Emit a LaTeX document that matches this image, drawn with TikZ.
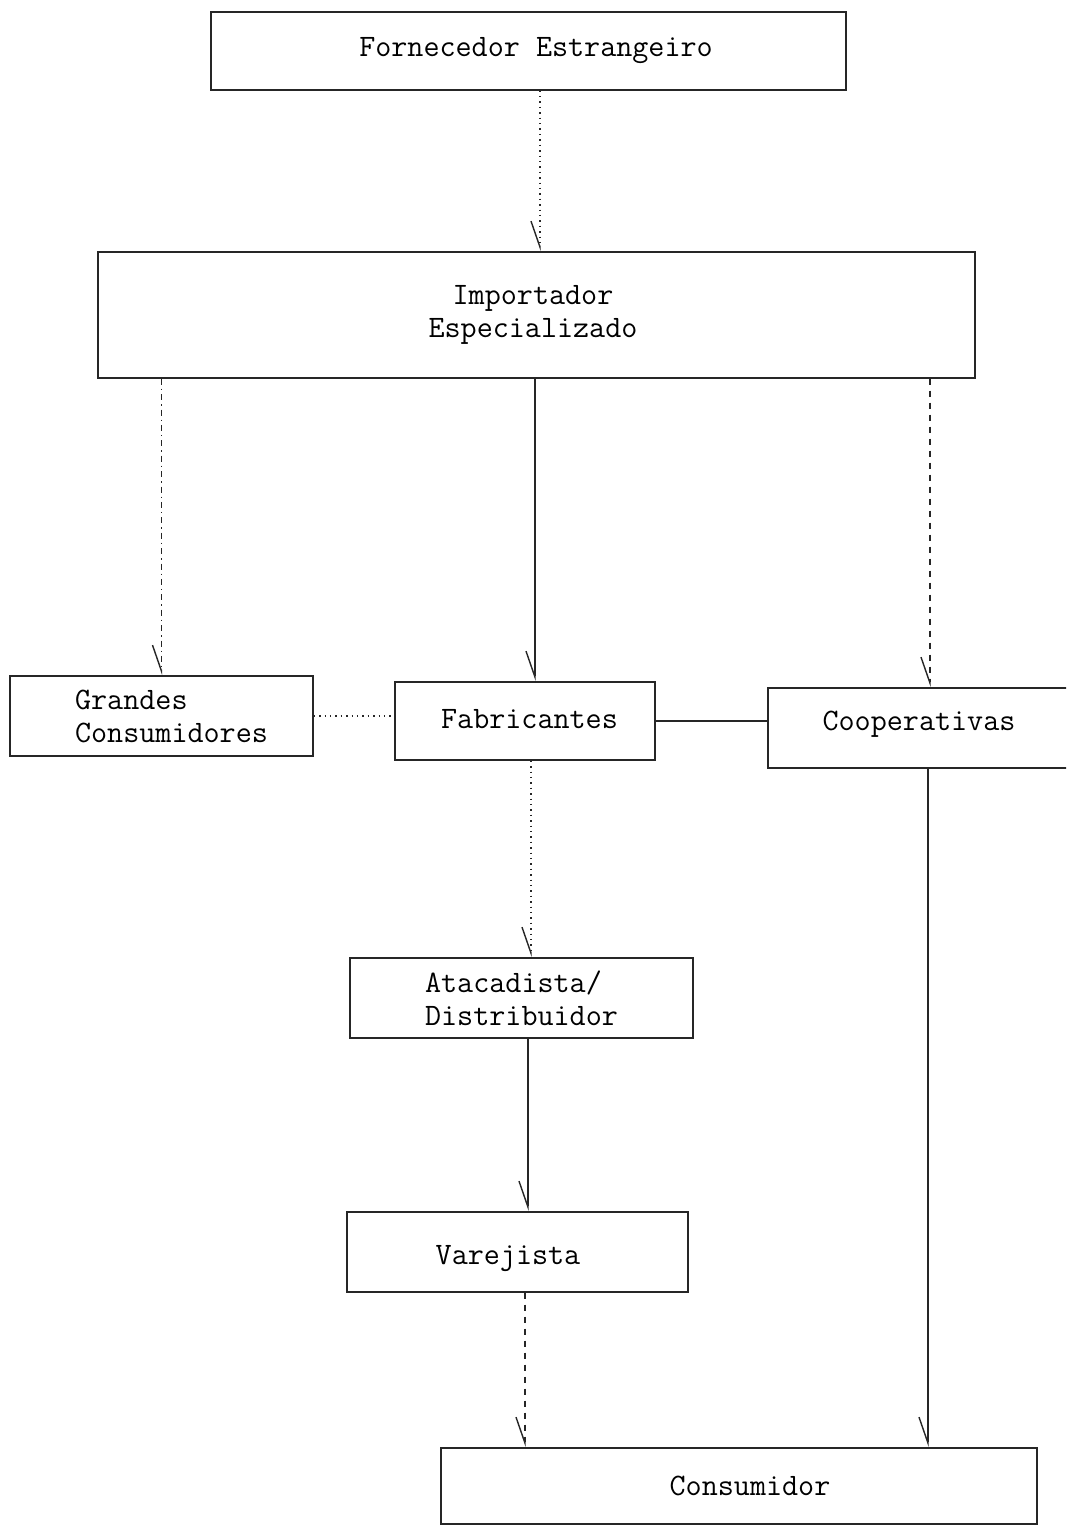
\documentclass[tikz,border=0pt]{standalone}
\usepackage{tikz}
\usetikzlibrary{arrows.meta}

\begin{document}
\begin{tikzpicture}[
  x=0.5pt, y=-0.5pt,
  box/.style={draw=black!85, line width=0.7pt, inner sep=0pt, align=center,
              font=\fontsize{15.6}{16.5}\selectfont\ttfamily},
  arr/.style={-{Straight Barb[right, length=13pt, width=9pt]}, line width=0.7pt, draw=black!85},
  lnk/.style={line width=0.7pt, draw=black!85}
]
\clip (0,0) rectangle (1066,1525);
\fill[white] (0,0) rectangle (1066,1525);

\node[box, minimum width=317.5pt, minimum height=39pt] (forn) at (528.5,51) {\hspace*{7.5pt}Fornecedor Estrangeiro};
\node[box, minimum width=438.5pt, minimum height=63pt] (imp) at (536.5,315) {\hspace*{-3.5pt}Importador\\\hspace*{-3.5pt}Especializado};
\node[box, minimum width=151.5pt, minimum height=40pt, align=left] (grd) at (161.5,716) {\hspace*{10pt}Grandes\\\hspace*{10pt}Consumidores};
\node[box, minimum width=130pt, minimum height=39pt] (fab) at (525,721) {\hspace*{4.5pt}\raisebox{1pt}[\height][\depth]{Fabricantes}};
\node[box, minimum width=151pt, minimum height=40pt] (coop) at (919,728) {\raisebox{2pt}[\height][\depth]{Cooperativas}};
\node[box, minimum width=171.5pt, minimum height=40pt, align=left] (atac) at (521.5,998) {Atacadista/\\Distribuidor};
\node[box, minimum width=170.5pt, minimum height=40pt] (var) at (517.5,1252) {\hspace*{-9.5pt}\raisebox{-3.5pt}[\height][\depth]{Varejista}};
\node[box, minimum width=298pt, minimum height=38pt, text depth=0pt] (cons) at (739,1486) {\hspace{11pt}Consumidor};

\draw[arr, dotted] ([xshift=5.75pt]forn.south) -- ([xshift=5.75pt]forn.south |- imp.north);
\draw[arr, dash dot] (imp.south -| grd.north) -- (grd.north);
\draw[arr] ([xshift=5pt]imp.south -| fab.north) -- ([xshift=5pt]fab.north);
\draw[arr, dashed] ([xshift=5.5pt]imp.south -| coop.north) -- ([xshift=5.5pt]coop.north);
\draw[lnk, dotted] (grd.east) -- (grd.east -| fab.west);
\draw[lnk] (fab.east) -- (fab.east -| coop.west);
\draw[arr, dotted] ([xshift=3pt]fab.south) -- ([xshift=3pt]fab.south |- atac.north);
\draw[arr] ([xshift=3.25pt]atac.south) -- ([xshift=3.25pt]atac.south |- var.north);
\draw[arr, dashed] ([xshift=3.75pt]var.south) -- ([xshift=3.75pt]var.south |- cons.north);
\draw[arr] ([xshift=4.5pt]coop.south) -- ([xshift=4.5pt]coop.south |- cons.north);
\end{tikzpicture}
\end{document}
